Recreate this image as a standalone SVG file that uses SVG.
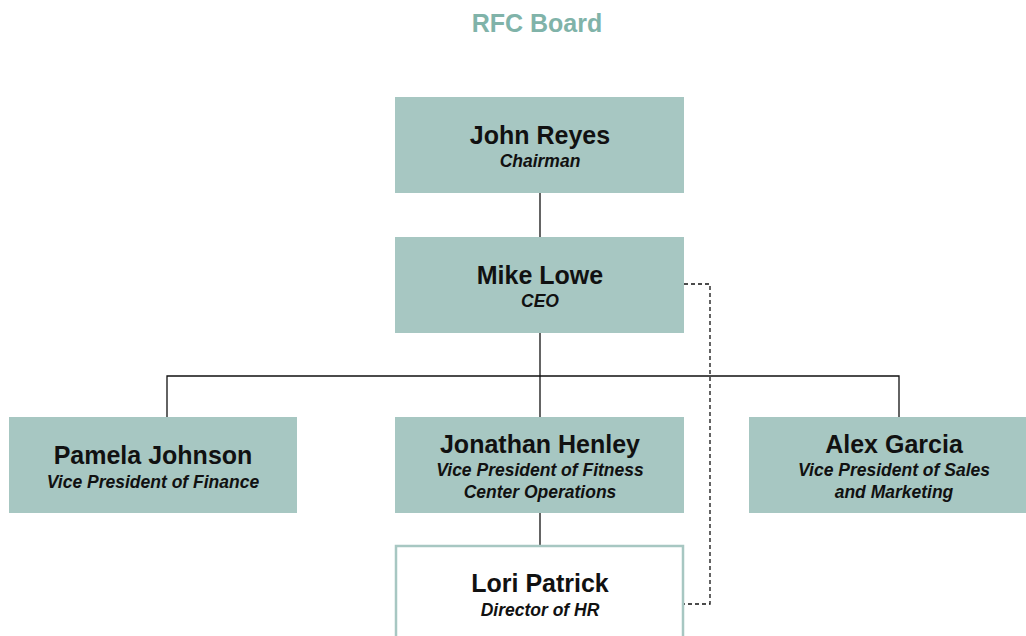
<svg xmlns="http://www.w3.org/2000/svg" width="1026" height="636" viewBox="0 0 1026 636">
<style>
.box{fill:#a7c7c2;}
.wbox{fill:#ffffff;stroke:#a7c7c2;stroke-width:2.5;}
.name{font-family:"Liberation Sans",Arial,sans-serif;font-weight:bold;font-size:25px;fill:#111;text-anchor:middle;}
.role{font-family:"Liberation Sans",Arial,sans-serif;font-weight:bold;font-style:italic;font-size:17.5px;fill:#111;text-anchor:middle;}
.title{font-family:"Liberation Sans",Arial,sans-serif;font-weight:bold;font-size:25px;fill:#80b3a9;text-anchor:middle;}
.line{fill:none;stroke:#111;stroke-width:1.3;}
.dash{fill:none;stroke:#111;stroke-width:1.3;stroke-dasharray:4,3;}
</style>
<rect width="1026" height="636" fill="#ffffff"/>
<text class="title" x="537" y="32">RFC Board</text>
<g id="connectors">
<path class="line" d="M540,193 V237"/>
<path class="line" d="M540,333 V417"/>
<path class="line" d="M167,417 V376 H899 V417"/>
<path class="line" d="M540,513 V545"/>
<path class="dash" d="M684,284 H710 V604 H684"/>
</g>
<g id="john-reyes">
<rect class="box" x="395" y="97" width="289" height="96"/>
<text class="name" x="540" y="144">John Reyes</text>
<text class="role" x="540" y="167">Chairman</text>
</g>
<g id="mike-lowe">
<rect class="box" x="395" y="237" width="289" height="96"/>
<text class="name" x="540" y="284">Mike Lowe</text>
<text class="role" x="540" y="307">CEO</text>
</g>
<g id="pamela-johnson">
<rect class="box" x="9" y="417" width="288" height="96"/>
<text class="name" x="153" y="464">Pamela Johnson</text>
<text class="role" x="153" y="488">Vice President of Finance</text>
</g>
<g id="jonathan-henley">
<rect class="box" x="395" y="417" width="289" height="96"/>
<text class="name" x="540" y="453">Jonathan Henley</text>
<text class="role" x="540" y="476">Vice President of Fitness</text>
<text class="role" x="540" y="498">Center Operations</text>
</g>
<g id="alex-garcia">
<rect class="box" x="749" y="417" width="277" height="96"/>
<text class="name" x="894" y="453">Alex Garcia</text>
<text class="role" x="894" y="476">Vice President of Sales</text>
<text class="role" x="894" y="498">and Marketing</text>
</g>
<g id="lori-patrick">
<rect class="wbox" x="396" y="546" width="287" height="100"/>
<text class="name" x="540" y="592">Lori Patrick</text>
<text class="role" x="540" y="616">Director of HR</text>
</g>
</svg>
